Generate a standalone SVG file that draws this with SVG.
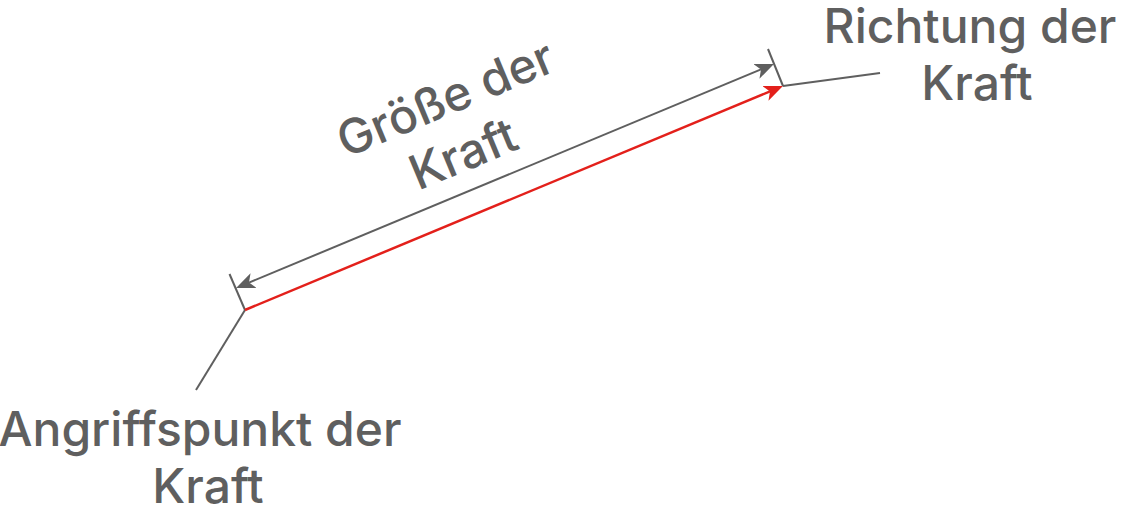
<svg xmlns="http://www.w3.org/2000/svg" width="1132" height="516" viewBox="0 0 1132 516">
<style>
  .lbl { font-family: Inter, "Liberation Sans", Arial, sans-serif; font-weight: 500; font-size: 48px; fill: #5f5f5f; text-anchor: middle; }
  .gray { stroke: #5f5f5f; stroke-width: 2; fill: none; }
  .red { stroke: #e3201b; stroke-width: 2.5; fill: none; }
</style>
<defs>
  <marker id="ahGray" viewBox="0 -9 20 18" refX="5" refY="0" markerWidth="20" markerHeight="18" markerUnits="userSpaceOnUse" orient="auto-start-reverse">
    <path d="M0,-8 L19,0 L0,8 L5,0 Z" fill="#5f5f5f"/>
  </marker>
  <marker id="ahRed" viewBox="0 -9 20 18" refX="5" refY="0" markerWidth="20" markerHeight="18" markerUnits="userSpaceOnUse" orient="auto">
    <path d="M0,-8 L19,0 L0,8 L5,0 Z" fill="#e3201b"/>
  </marker>
</defs>
<rect width="1132" height="516" fill="#ffffff"/>
<g id="connectors">
  <line class="gray" x1="245" y1="310" x2="196" y2="390"/>
  <line class="gray" x1="783" y1="86" x2="880" y2="73"/>
  <line class="gray" x1="245" y1="310" x2="229.5" y2="274"/>
  <line class="gray" x1="783" y1="86" x2="768" y2="49"/>
  <line class="gray" x1="249" y1="282.6" x2="761" y2="69.4" marker-start="url(#ahGray)" marker-end="url(#ahGray)"/>
  <line class="red" x1="245" y1="310" x2="770" y2="91.4" marker-end="url(#ahRed)"/>
</g>
<g id="node-angriffspunkt">
  <text class="lbl" x="200" y="446">Angriffspunkt der</text>
  <text class="lbl" x="208" y="503">Kraft</text>
</g>
<g id="node-richtung">
  <text class="lbl" x="970" y="43">Richtung der</text>
  <text class="lbl" x="977" y="100">Kraft</text>
</g>
<g id="node-groesse" transform="translate(452,114) rotate(-22.6)">
  <text class="lbl" x="0" y="0">Größe der</text>
  <text class="lbl" x="-5" y="58">Kraft</text>
</g>
</svg>
